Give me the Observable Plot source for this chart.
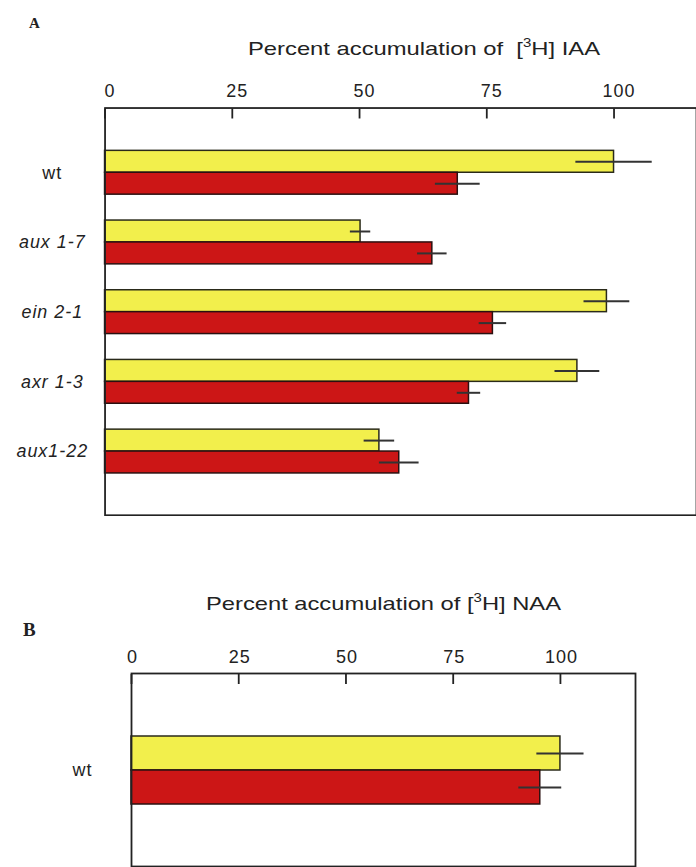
<!DOCTYPE html>
<html>
<head>
<meta charset="utf-8">
<script src="https://cdn.jsdelivr.net/npm/d3@7"></script>
<script src="https://cdn.jsdelivr.net/npm/@observablehq/plot@0.6"></script>
<style>
html,body{margin:0;padding:0;background:#fff;overflow:hidden;}
#root{position:relative;width:696px;height:867px;overflow:hidden;font-family:"Liberation Sans",Arial,sans-serif;color:#222;}
.panel{position:absolute;left:0;}
.letter{position:absolute;font-family:"Liberation Serif","Times New Roman",serif;font-weight:bold;color:#222;line-height:1;}
.title{position:absolute;white-space:nowrap;font-size:19px;line-height:19px;transform-origin:left top;}
.title sup{font-size:12px;line-height:0;vertical-align:8px;}
</style>
</head>
<body>
<div id="root">
  <div class="letter" style="left:29px;top:16px;font-size:15px;">A</div>
  <div class="title" id="titleA" style="left:248px;top:39px;">Percent accumulation of&nbsp; [<sup>3</sup>H] IAA</div>
  <div class="panel" id="panelA" style="top:0px;"></div>
  <div class="letter" style="left:23px;top:620px;font-size:19px;">B</div>
  <div class="title" id="titleB" style="left:206px;top:594px;">Percent accumulation of [<sup>3</sup>H] NAA</div>
  <div class="panel" id="panelB" style="top:560px;"></div>
</div>
<script>
// ---- data ----
const categoriesA = ["wt", "aux 1-7", "ein 2-1", "axr 1-3", "aux1-22"];
const iaaYellow    = [100, 50.2, 98.6, 92.8, 53.9];
const iaaYellowErr = [7.5, 2.0, 4.5, 4.4, 3.0];
const iaaRed       = [69.3, 64.3, 76.2, 71.5, 57.8];
const iaaRedErr    = [4.4, 2.9, 2.7, 2.3, 3.9];

const categoriesB = ["wt"];
const naaYellow    = [100];
const naaYellowErr = [5.5];
const naaRed       = [95.3];
const naaRedErr    = [5.0];

const tickValues = [0, 25, 50, 75, 100];

// ---- styles ----
const YELLOW = "#f2ef4c";
const RED = "#cc1616";
const INK = "#222";

function rows(cats, vals, errs) {
  return cats.map((c, i) => ({cat: c, value: vals[i], lo: vals[i] - errs[i], hi: vals[i] + errs[i]}));
}

function panel({cats, yellow, yellowErr, red, redErr, width, marginLeft, marginRight, marginTop, marginBottom, height, xMax, pi, po, half, labelDx, tickDx}) {
  const Y = rows(cats, yellow, yellowErr);
  const R = rows(cats, red, redErr);
  return Plot.plot({
    width, height, marginLeft, marginRight, marginTop, marginBottom,
    style: {fontFamily: "Liberation Sans, Arial, sans-serif", fontSize: "18px", color: INK, letterSpacing: "1px", background: "transparent"},
    x: {domain: [0, xMax], axis: null},
    y: {domain: cats, paddingInner: pi, paddingOuter: po, axis: null},
    marks: [
      Plot.barX(Y, {y: "cat", x: "value", fill: YELLOW, stroke: "#2a2a1a", strokeWidth: 1.5, insetBottom: half}),
      Plot.barX(R, {y: "cat", x: "value", fill: RED, stroke: "#2a1010", strokeWidth: 1.5, insetTop: half}),
      Plot.ruleY(Y, {y: "cat", x1: "lo", x2: "hi", dy: -half / 2, stroke: "#333", strokeWidth: 2}),
      Plot.ruleY(R, {y: "cat", x1: "lo", x2: "hi", dy: half / 2, stroke: "#333", strokeWidth: 2}),
      Plot.frame({stroke: INK, strokeWidth: 1.8}),
      Plot.axisX({anchor: "top", ticks: tickValues, tickSize: 0, tickPadding: 11, dx: tickDx, label: null, fontSize: 18, fill: INK}),
      Plot.axisX({anchor: "top", ticks: tickValues, tickSize: 10, dy: 10, tickFormat: () => "", label: null, stroke: INK, strokeWidth: 1.8}),
      Plot.text(cats, {filter: d => d === "wt", y: d => d, text: d => d, frameAnchor: "left", dx: labelDx, textAnchor: "middle", fontSize: 18, fill: INK}),
      Plot.text(cats, {filter: d => d !== "wt", y: d => d, text: d => d, frameAnchor: "left", dx: labelDx, textAnchor: "middle", fontSize: 18, fontStyle: "italic", fill: INK})
    ]
  });
}

document.getElementById("panelA").append(panel({
  cats: categoriesA, yellow: iaaYellow, yellowErr: iaaYellowErr, red: iaaRed, redErr: iaaRedErr,
  width: 699, height: 518, marginLeft: 105, marginRight: 0, marginTop: 108, marginBottom: 1,
  xMax: 116.2, pi: 0.378, po: 0.58, half: 22, labelDx: -53, tickDx: 5
}));

document.getElementById("panelB").append(panel({
  cats: categoriesB, yellow: naaYellow, yellowErr: naaYellowErr, red: naaRed, redErr: naaRedErr,
  width: 696, height: 307, marginLeft: 131, marginRight: 61, marginTop: 113, marginBottom: 1,
  xMax: 117.5, pi: 0.1, po: 0.827, half: 34, labelDx: -49, tickDx: 1
}));

// stretch titles to the reference widths
function fit(id, w) {
  const el = document.getElementById(id);
  const cur = el.getBoundingClientRect().width;
  el.style.transform = `scaleX(${w / cur})`;
}
fit("titleA", 352);
fit("titleB", 355);
</script>
</body>
</html>
